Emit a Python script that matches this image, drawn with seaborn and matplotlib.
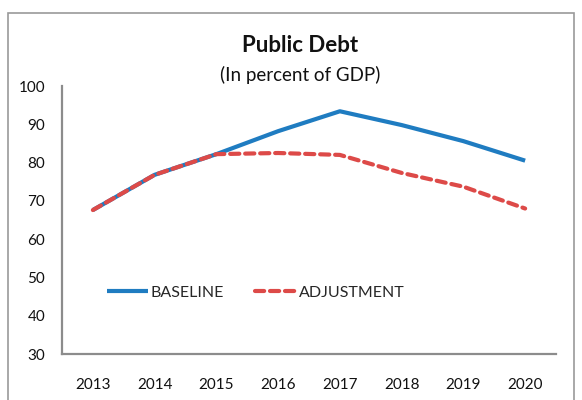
import matplotlib
matplotlib.use("Agg")
import matplotlib.pyplot as plt
import matplotlib.patches as mpatches
import seaborn as sns
import pandas as pd

years = ["2013", "2014", "2015", "2016", "2017", "2018", "2019", "2020"]
baseline = [67.6, 76.8, 82.2, 88.2, 93.4, 89.8, 85.6, 80.5]
adjustment = [67.6, 76.8, 82.2, 82.5, 82.0, 77.3, 73.7, 68.0]
y_ticks = [30, 40, 50, 60, 70, 80, 90, 100]

sns.set_theme(style="white")
plt.rcParams["font.family"] = ["Lato", "DejaVu Sans"]

df = pd.DataFrame({
    "year": years * 2,
    "value": baseline + adjustment,
    "series": ["BASELINE"] * len(years) + ["ADJUSTMENT"] * len(years),
})

fig = plt.figure(figsize=(5.82, 4.0), dpi=100)
ax = fig.add_axes([62 / 582, 1 - 354 / 400, (556 - 62) / 582, (354 - 86) / 400])

palette = {"BASELINE": "#1f7cc1", "ADJUSTMENT": "#dd4a48"}
sns.lineplot(data=df, x="year", y="value", hue="series", style="series",
             palette=palette, dashes={"BASELINE": "", "ADJUSTMENT": (2.2, 1.4)},
             linewidth=3.0, ax=ax, sort=False)
for line in ax.get_lines():
    line.set_dash_capstyle("round")
    line.set_solid_capstyle("butt")

ax.set_xlim(-0.5, len(years) - 0.5)
ax.set_ylim(30, 100)
ax.set_yticks(y_ticks)
ax.set_xlabel("")
ax.set_ylabel("")
ax.tick_params(axis="x", length=0, pad=17, labelsize=11, colors="#111111")
ax.tick_params(axis="y", length=0, pad=12, labelsize=11, colors="#111111")
for s in ["top", "right"]:
    ax.spines[s].set_visible(False)
for s in ["left", "bottom"]:
    ax.spines[s].set_color("#8c8c8c")
    ax.spines[s].set_linewidth(1.6)

leg = ax.legend(loc="center left", bbox_to_anchor=(0.091, 0.228), ncol=2,
                frameon=False, fontsize=11.5, handlelength=2.6, handletextpad=0.15,
                columnspacing=1.9, borderpad=0, borderaxespad=0)
for h in leg.get_lines():
    h.set_linewidth(3.0)

fig.text(0.516, 1 - 45 / 400, "Public Debt", ha="center", va="center",
         fontsize=16, fontweight="bold", color="#111111")
fig.text(0.516, 1 - 75 / 400, "(In percent of GDP)", ha="center", va="center",
         fontsize=13.5, color="#111111")

frame = mpatches.Rectangle((8 / 582, -0.05), (574 - 8) / 582, 1 - 13 / 400 + 0.05,
                           transform=fig.transFigure, fill=False,
                           edgecolor="#9a9a9a", linewidth=1.2)
fig.patches.append(frame)

fig.savefig("out.png", dpi=100)
